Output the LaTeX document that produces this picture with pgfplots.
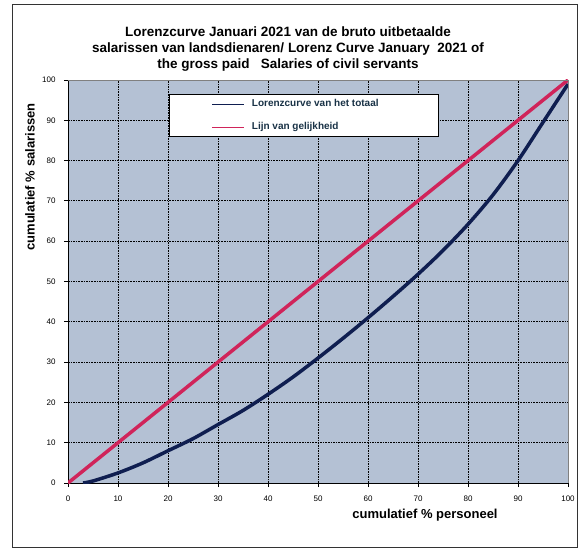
\documentclass[border=0pt]{standalone}
\usepackage{fontspec}
\setmainfont{Liberation Sans}
\usepackage{pgfplots}
\pgfplotsset{compat=1.18}
\definecolor{bgblue}{RGB}{180,193,212}
\definecolor{lorenz}{RGB}{15,30,80}
\definecolor{gelijk}{RGB}{208,36,90}
\definecolor{legtext}{RGB}{25,50,70}
\begin{document}
\begin{tikzpicture}[x=1pt,y=1pt]
\useasboundingbox (0,0) rectangle (580,552);
\draw[line width=1pt, black!80] (12,5) rectangle (577,547);
\node[align=center, font=\bfseries\fontsize{13.5}{16}\selectfont] at (288,503)
  {Lorenzcurve Januari 2021 van de bruto uitbetaalde\\
   salarissen van landsdienaren/ Lorenz Curve January\ \ 2021 of\\
   the gross paid\ \ \ Salaries of civil servants};
\node[rotate=90, font=\bfseries\fontsize{13}{15}\selectfont] at (30,375) {cumulatief \% salarissen};
\node[font=\bfseries\fontsize{13}{15}\selectfont] at (425,37) {cumulatief \% personeel};
\begin{axis}[
  at={(68pt,69pt)}, anchor=south west,
  scale only axis, width=500pt, height=403pt,
  xmin=0, xmax=100, ymin=0, ymax=100,
  xtick={0,10,...,100}, ytick={0,10,...,100},
  axis x line*=bottom, axis y line*=left,
  axis line style={black, line width=1pt, -},
  tick align=outside, major tick length=4pt,
  tick style={black, line width=0.8pt},
  grid=major,
  grid style={black, line width=0.8pt, dash pattern=on 1.6pt off 1pt},
  axis background/.style={fill=bgblue},
  /pgf/number format/assume math mode=true,
  ticklabel style={font=\fontsize{8}{9}\selectfont},
  xticklabel style={yshift=-5pt},
  yticklabel style={xshift=-5pt},
  after end axis/.code={\draw[gray, line width=0.6pt] (rel axis cs:0,1) -- (rel axis cs:1,1) -- (rel axis cs:1,0);},
  legend cell align=left,
  legend style={at={(0.202,0.965)}, anchor=north west, draw=black, line width=0.8pt, fill=white,
    inner xsep=0pt, inner ysep=4.5pt, row sep=13pt,
    nodes={inner sep=0pt, text height=7.5pt, text depth=2.5pt, font=\bfseries\fontsize{10}{12}\selectfont, text=legtext}},
  legend image code/.code={\path (-41pt,0pt); \draw[#1, line width=1pt] (0pt,0pt) -- (32pt,0pt); \path (38pt,0pt);},
]
\addplot[lorenz, line width=3.5pt, smooth] coordinates {
(3,0) (5,0.5) (10,2.5) (15,5) (20,8) (25,11) (30,14.5) (35,18) (40,22)
(45,26.3) (50,31) (55,35.9) (60,41) (65,46.3) (70,51.8) (75,57.7) (80,64.2)
(85,71.5) (90,80) (95,89.5) (100,99)};
\addlegendentry{\makebox[186pt][l]{Lorenzcurve van het totaal}}
\addplot[gelijk, line width=3.5pt] coordinates {(0,0) (100,100)};
\addlegendentry{\makebox[186pt][l]{Lijn van gelijkheid}}
\end{axis}
\end{tikzpicture}
\end{document}
